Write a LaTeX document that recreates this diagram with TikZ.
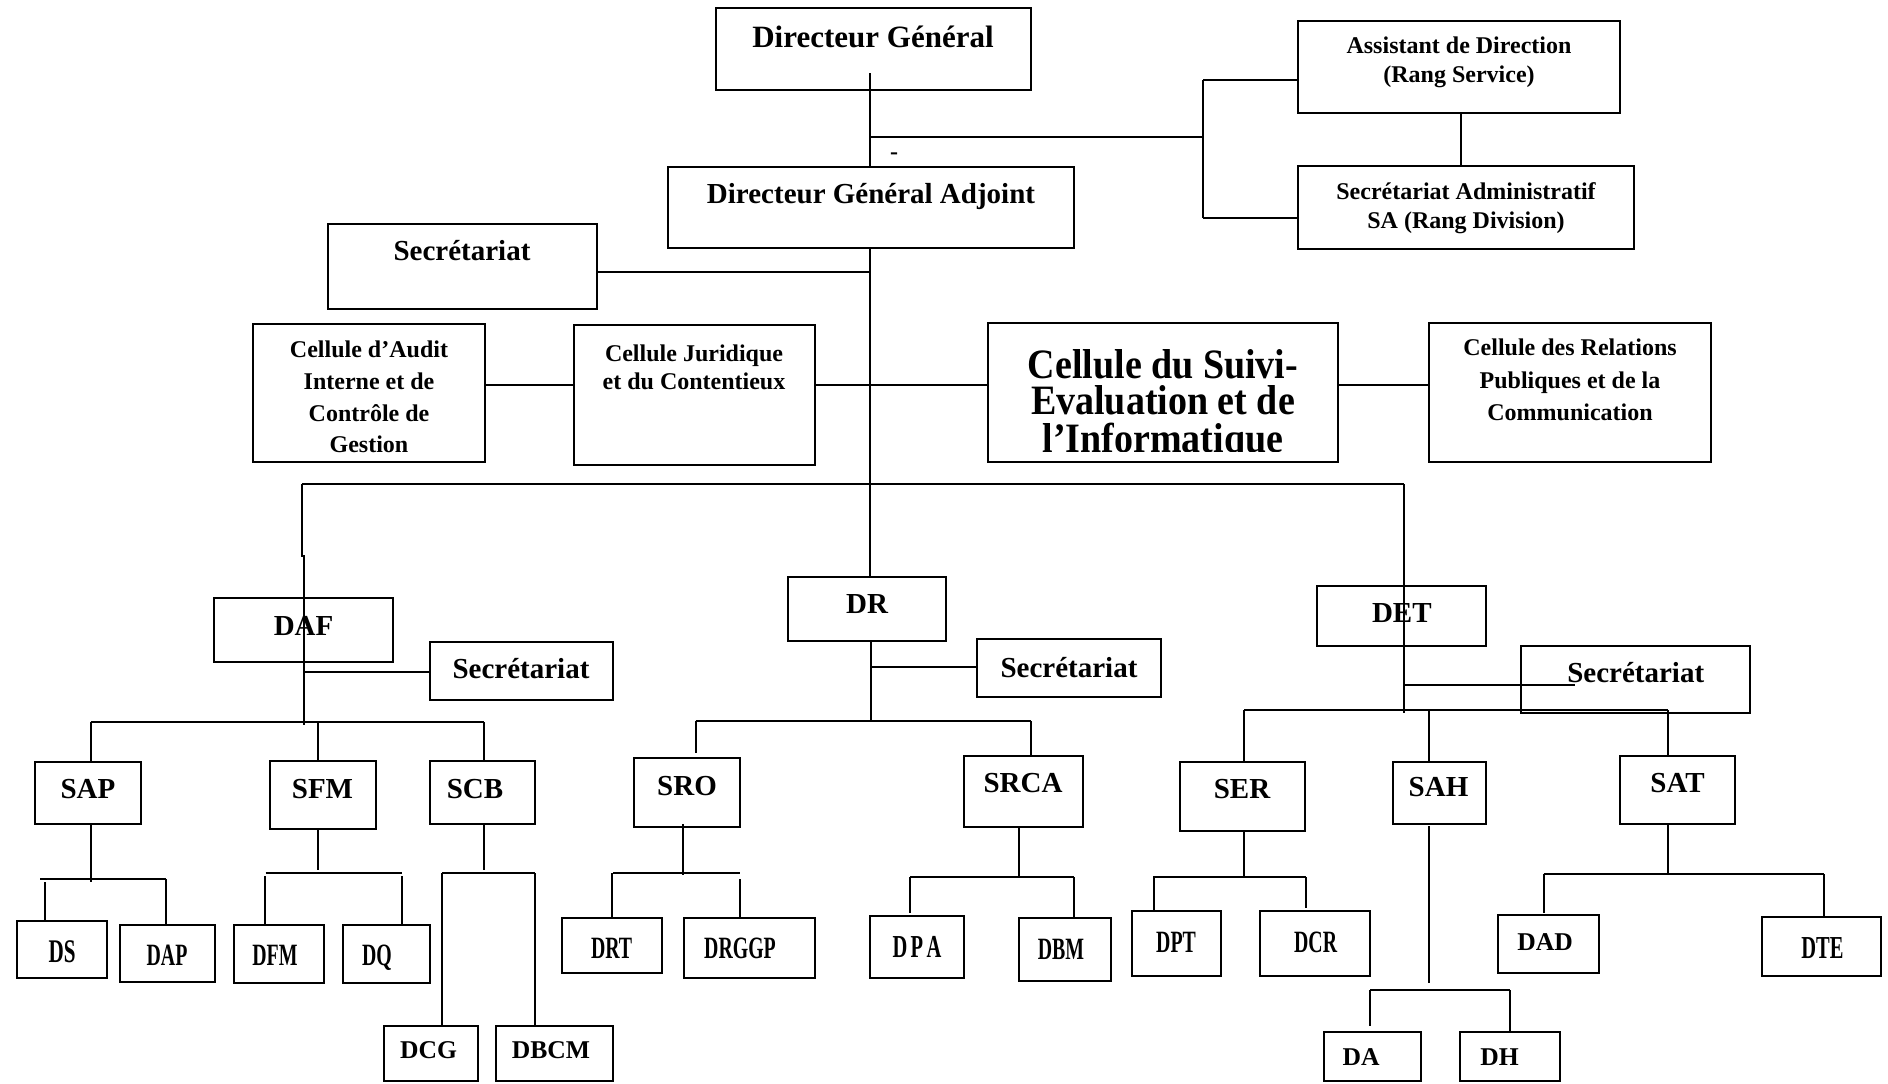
\documentclass[tikz,border=0pt]{standalone}
\usepackage{fontspec}
\usepackage{graphicx}
\setmainfont{Liberation Serif}
\usetikzlibrary{fit}
\newcommand\fs[1]{\fontsize{#1}{#1}\selectfont\bfseries}
\newcommand\cnd[1]{\scalebox{0.64}[1]{#1}}
\tikzset{
  boxst/.style={draw, line width=1.2pt, inner sep=0pt, outer sep=0pt},
  ln/.style={line width=1pt},
  lbl/.style={inner sep=0pt, outer sep=0pt, anchor=base, align=center},
  big/.style={lbl, font=\fs{14.5pt}},
  med/.style={lbl, font=\fs{12pt}},
  sm/.style={lbl, font=\fs{12.8pt}},
  cn/.style={lbl, font=\fs{15.5pt}}
}
\newcommand\bx[5]{\node[boxst, fit={(#2,#3) (#4,#5)}] (#1) {};}
\begin{document}
\begin{tikzpicture}[x=0.5pt,y=-0.5pt]
\useasboundingbox (0,0) rectangle (1888,1083);
% ---------- boxes ----------
\bx{dg}{716}{8}{1031}{90}
\bx{ad}{1298}{21}{1620}{113}
\bx{sa}{1298}{166}{1634}{249}
\bx{dga}{668}{167}{1074}{248}
\bx{sec0}{328}{224}{597}{309}
\bx{audit}{253}{324}{485}{462}
\bx{jur}{574}{325}{815}{465}
\bx{se}{988}{323}{1338}{462}
\bx{rel}{1429}{323}{1711}{462}
\bx{daf}{214}{598}{393}{662}
\bx{secdaf}{430}{642}{613}{700}
\bx{sap}{35}{762}{141}{824}
\bx{sfm}{270}{761}{376}{829}
\bx{scb}{430}{761}{535}{824}
\bx{ds}{17}{921}{107}{978}
\bx{dap}{120}{925}{215}{982}
\bx{dfm}{234}{925}{324}{983}
\bx{dq}{343}{925}{430}{983}
\bx{dcg}{384}{1026}{478}{1081}
\bx{dbcm}{496}{1026}{613}{1081}
\bx{dr}{788}{577}{946}{641}
\bx{secdr}{977}{639}{1161}{697}
\bx{sro}{634}{758}{740}{827}
\bx{srca}{964}{756}{1083}{827}
\bx{drt}{562}{918}{662}{973}
\bx{drggp}{684}{918}{815}{978}
\bx{dpa}{870}{916}{964}{978}
\bx{dbm}{1019}{918}{1111}{981}
\bx{det}{1317}{586}{1486}{646}
\bx{secdet}{1521}{646}{1750}{713}
\bx{ser}{1180}{762}{1305}{831}
\bx{sah}{1393}{762}{1486}{824}
\bx{sat}{1620}{756}{1735}{824}
\bx{dpt}{1132}{911}{1221}{976}
\bx{dcr}{1260}{911}{1370}{976}
\bx{dad}{1498}{915}{1599}{973}
\bx{dte}{1762}{917}{1881}{976}
\bx{da}{1324}{1032}{1421}{1081}
\bx{dh}{1460}{1032}{1560}{1081}
% ---------- texts ----------
\node[lbl, font=\fs{15.5pt}] (dg-t) at (873,47) {Directeur Général};
\node[med] (ad-t1) at (1459,53) {Assistant de Direction};
\node[med] (ad-t2) at (1459,82) {(Rang Service)};
\node[med] (sa-t1) at (1466,199) {Secrétariat Administratif};
\node[med] (sa-t2) at (1466,228) {SA (Rang Division)};
\node[big] (dga-t) at (871,203) {Directeur Général Adjoint};
\node[big] (sec0-t) at (462,260) {Secrétariat};
\node[lbl, font=\fs{12pt}] (dash-t) at (894,159) {-};
\begin{scope}
  \clip (253,324) rectangle (485,452);
  \node[med] (au-t1) at (369,357) {Cellule d’Audit};
  \node[med] (au-t2) at (369,389) {Interne et de};
  \node[med] (au-t3) at (369,421) {Contrôle de};
  \node[med] (au-t4) at (369,452) {Gestion};
\end{scope}
\node[med] (ju-t1) at (694,361) {Cellule Juridique};
\node[med] (ju-t2) at (694,389) {et du Contentieux};
\begin{scope}
  \clip (988,323) rectangle (1338,451);
  \node[lbl, font=\fs{19pt}] (se-t1) at (1163,378) {\scalebox{1}[1.1]{Cellule du Suivi-}};
  \node[lbl, font=\fs{19pt}] (se-t2) at (1163,414) {\scalebox{1}[1.1]{Evaluation et de}};
  \node[lbl, font=\fs{19pt}] (se-t3) at (1163,452) {\scalebox{1}[1.1]{l’Informatique}};
\end{scope}
\node[med] (re-t1) at (1570,355) {Cellule des Relations};
\node[med] (re-t2) at (1570,388) {Publiques et de la};
\node[med] (re-t3) at (1570,420) {Communication};
\node[big] (daf-t) at (303.6,635) {DAF};
\node[big] (secdaf-t) at (521,678) {Secrétariat};
\node[big] (sap-t) at (88,798) {SAP};
\node[big] (sfm-t) at (322.5,798) {SFM};
\node[big] (scb-t) at (475,798) {SCB};
\node[lbl, font=\fs{16.5pt}] (ds-t) at (62,962) {\cnd{DS}};
\node[cn] (dap-t) at (167,965) {\cnd{DAP}};
\node[cn] (dfm-t) at (275,965) {\cnd{DFM}};
\node[cn] (dq-t) at (377,965) {\cnd{DQ}};
\node[sm] (dcg-t) at (428.6,1058) {DCG};
\node[sm] (dbcm-t) at (551,1058) {DBCM};
\node[big] (dr-t) at (867,613) {DR};
\node[big] (secdr-t) at (1069,677) {Secrétariat};
\node[big] (sro-t) at (687,795) {SRO};
\node[big] (srca-t) at (1023,792) {SRCA};
\node[cn] (drt-t) at (611.6,958) {\cnd{DRT}};
\node[cn] (drggp-t) at (740,958) {\cnd{DRGGP}};
\node[lbl, font=\fs{16pt}] (dpa-t) at (917,957) {\cnd{D\,P\,A}};
\node[cn] (dbm-t) at (1061,959) {\cnd{DBM}};
\node[big] (det-t) at (1401.8,622.7) {DET};
\node[big] (secdet-t) at (1635.7,682.7) {Secrétariat};
\node[big] (ser-t) at (1242,798) {SER};
\node[big] (sah-t) at (1438.5,796.7) {SAH};
\node[big] (sat-t) at (1677.5,792) {SAT};
\node[cn] (dpt-t) at (1176,952.7) {\cnd{DPT}};
\node[cn] (dcr-t) at (1315.6,952.7) {\cnd{DCR}};
\node[sm] (dad-t) at (1545,950) {DAD};
\node[lbl, font=\fs{16pt}] (dte-t) at (1822.4,958.3) {\cnd{DTE}};
\node[sm] (da-t) at (1361,1065.7) {DA};
\node[sm] (dh-t) at (1499.5,1065.7) {DH};
% ---------- junction coordinates ----------
\coordinate (m0) at (870,73);
\coordinate (j1) at (870,137);
\coordinate (j2) at (1203,137);
\coordinate (k1) at (1203,80);
\coordinate (k2) at (1203,218);
\coordinate (xad) at (1461,0);
\coordinate (y272) at (870,272);
\coordinate (y385) at (870,385);
\coordinate (bl) at (302,484);
\coordinate (bm) at (870,484);
\coordinate (br) at (1404,484);
\coordinate (bl2) at (302,557);
\coordinate (bl3) at (303.5,555);
\coordinate (bl4) at (303.5,725);
\coordinate (ysd) at (303.5,672);
\coordinate (fa) at (90.6,722);
\coordinate (fb) at (318,722);
\coordinate (fc) at (484,722);
\coordinate (sa1) at (90.6,882);
\coordinate (sa2) at (40,879);
\coordinate (sa3) at (166,879);
\coordinate (sa4) at (44.6,882);
\coordinate (sf1) at (318,870);
\coordinate (sf2) at (265.6,873);
\coordinate (sf3) at (401.8,873);
\coordinate (sf4) at (264.7,876);
\coordinate (sf5) at (401.8,876);
\coordinate (sc1) at (483.5,870);
\coordinate (sc2) at (442,873);
\coordinate (sc3) at (535,873);
\coordinate (rv) at (870.6,721);
\coordinate (rs) at (870.6,667);
\coordinate (ra) at (695.7,721);
\coordinate (rb) at (1030.5,721);
\coordinate (ra2) at (695.7,753);
\coordinate (ro1) at (683.4,875);
\coordinate (ro2) at (613.4,873);
\coordinate (ro3) at (739.7,873);
\coordinate (ro4) at (611.5,873);
\coordinate (ro5) at (739.7,879);
\coordinate (rc1) at (1019,877);
\coordinate (rc2) at (910,877);
\coordinate (rc3) at (1073.8,877);
\coordinate (rc4) at (910,913);
\coordinate (ev) at (1404,713);
\coordinate (es) at (1404,685);
\coordinate (es2) at (1575,685);
\coordinate (ea) at (1244,710);
\coordinate (eb) at (1429,710);
\coordinate (ec) at (1668,710);
\coordinate (er1) at (1244,877);
\coordinate (er2) at (1153,877);
\coordinate (er3) at (1305.5,877);
\coordinate (er4) at (1154,877);
\coordinate (er5) at (1305.5,908);
\coordinate (eh0) at (1429,826);
\coordinate (eh1) at (1429,983);
\coordinate (eh2) at (1370,990);
\coordinate (eh3) at (1509.5,990);
\coordinate (eh4) at (1370,1026);
\coordinate (et1) at (1668,875);
\coordinate (et2) at (1543.7,874);
\coordinate (et3) at (1824,874);
\coordinate (et4) at (1543.7,913);
% ---------- connectors ----------
\begin{scope}[ln]
\draw (m0) -- (m0 |- dga.north);
\draw (j1) -- (j2);
\draw (k1) -- (k2);
\draw (k1) -- (k1 -| ad.west);
\draw (k2) -- (k2 -| sa.west);
\draw (ad.south -| xad) -- (sa.north -| xad);
\draw (dga.south -| m0) -- (dr.north -| m0);
\draw (y272 -| sec0.east) -- (y272);
\draw (y385 -| audit.east) -- (y385 -| jur.west);
\draw (y385 -| jur.east) -- (y385 -| se.west);
\draw (y385 -| se.east) -- (y385 -| rel.west);
\draw (bl) -- (br);
\draw (bl) -- (bl2);
\draw (bl3) -- (bl4);
\draw (ysd) -- (ysd -| secdaf.west);
\draw (fa) -- (fc);
\draw (fa) -- (fa |- sap.north);
\draw (fb) -- (fb |- sfm.north);
\draw (fc) -- (fc |- scb.north);
\draw (sap.south -| sa1) -- (sa1);
\draw (sa2) -- (sa3);
\draw (sa4) -- (sa4 |- ds.north);
\draw (sa3) -- (sa3 |- dap.north);
\draw (sfm.south -| sf1) -- (sf1);
\draw (sf2) -- (sf3);
\draw (sf4) -- (sf4 |- dfm.north);
\draw (sf5) -- (sf5 |- dq.north);
\draw (scb.south -| sc1) -- (sc1);
\draw (sc2) -- (sc3);
\draw (sc2) -- (sc2 |- dcg.north);
\draw (sc3) -- (sc3 |- dbcm.north);
\draw (dr.south -| rv) -- (rv);
\draw (rs) -- (rs -| secdr.west);
\draw (ra) -- (rb);
\draw (ra) -- (ra2);
\draw (rb) -- (rb |- srca.north);
\draw ([yshift=1.5pt]sro.south -| ro1) -- (ro1);
\draw (ro2) -- (ro3);
\draw (ro4) -- (ro4 |- drt.north);
\draw (ro5) -- (ro5 |- drggp.north);
\draw (srca.south -| rc1) -- (rc1);
\draw (rc2) -- (rc3);
\draw (rc2) -- (rc4);
\draw (rc3) -- (rc3 |- dbm.north);
\draw (br) -- (ev);
\draw (es) -- (es2);
\draw (ea) -- (ec);
\draw (ea) -- (ea |- ser.north);
\draw (eb) -- (eb |- sah.north);
\draw (ec) -- (ec |- sat.north);
\draw (ser.south -| er1) -- (er1);
\draw (er2) -- (er3);
\draw (er4) -- (er4 |- dpt.north);
\draw (er3) -- (er5);
\draw (eh0) -- (eh1);
\draw (eh2) -- (eh3);
\draw (eh2) -- (eh4);
\draw (eh3) -- (eh3 |- dh.north);
\draw (sat.south -| et1) -- (et1);
\draw (et2) -- (et3);
\draw (et2) -- (et4);
\draw (et3) -- (et3 |- dte.north);
\end{scope}
\end{tikzpicture}
\end{document}
